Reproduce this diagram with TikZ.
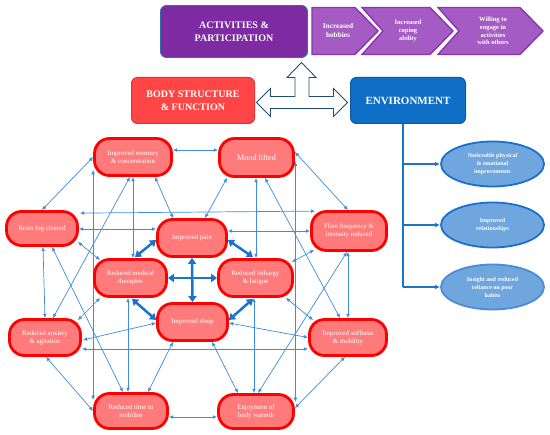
\documentclass[tikz,border=0pt]{standalone}
\usepackage{fontspec}
\setmainfont{Liberation Serif}
\usetikzlibrary{shapes.geometric,arrows.meta}
\pgfdeclarelayer{background}
\pgfsetlayers{background,main}
\definecolor{redfill}{HTML}{FF7B7B}
\definecolor{redline}{HTML}{FF0000}
\definecolor{bodyfill}{HTML}{FF4545}
\definecolor{bodyline}{HTML}{E53232}
\definecolor{envfill}{HTML}{0F6FC6}
\definecolor{envline}{HTML}{0B5AA5}
\definecolor{actfill}{HTML}{7E2BA3}
\definecolor{actline}{HTML}{2F6EA5}
\definecolor{chevfill}{HTML}{A45CC4}
\definecolor{chevline}{HTML}{8A34B0}
\definecolor{ellfill}{HTML}{6FA6DD}
\definecolor{ellline}{HTML}{1C6FCF}
\definecolor{thinblue}{HTML}{3C8DDB}
\definecolor{thickblue}{HTML}{1A73CC}
\definecolor{navy}{HTML}{1F4E79}
\begin{document}
\begin{tikzpicture}[x=1pt,y=-1pt,
  rn/.style={draw=redline, fill=redfill, line width=2.8pt, rounded corners=15pt,
    text=white, align=center, font=\fontsize{6.8}{8.2}\selectfont, inner sep=0pt},
  ell/.style={ellipse, draw=ellline, fill=ellfill, line width=1.8pt,
    minimum width=103pt, minimum height=45pt, text=white, align=center,
    font=\bfseries\fontsize{6}{8}\selectfont, inner sep=0pt},
  head/.style={text=white, align=center, inner sep=0pt, rounded corners=6pt},
  chev/.style={draw=chevline, fill=chevfill, line width=1.4pt, line join=miter},
  chevtext/.style={text=white, align=center, font=\bfseries\fontsize{6.5}{7.6}\selectfont},
  thinc/.style={draw=thinblue, line width=0.7pt,
    {Latex[length=4.3pt,width=3.8pt]}-{Latex[length=4.3pt,width=3.8pt]}},
  thickc/.style={draw=thickblue, line width=2.5pt,
    {Triangle[length=6pt,width=8pt]}-{Triangle[length=6pt,width=8pt]}},
  envc/.style={draw=thickblue, line width=1.2pt},
  enva/.style={envc, -{Latex[length=5pt,width=4.5pt]}}
]
\useasboundingbox (0,0) rectangle (550,435);

% ---- top: activities & chevrons
\node[head, draw=actline, fill=actfill, line width=0.9pt, minimum width=147pt, minimum height=52pt,
  font=\bfseries\fontsize{10}{13.3}\selectfont] (Act) at (234,31.5) {ACTIVITIES \&\\PARTICIPATION};
\draw[chev] (312,7.5) -- (355,7.5) -- (378,31) -- (355,54.5) -- (312,54.5) -- cycle;
\draw[chev] (362,7.5) -- (430,7.5) -- (453,31) -- (430,54.5) -- (362,54.5) -- (383,31) -- cycle;
\draw[chev] (438,7.5) -- (520,7.5) -- (543,31) -- (520,54.5) -- (438,54.5) -- (459,31) -- cycle;
\node[chevtext, font=\bfseries\fontsize{7.3}{9}\selectfont] (C1) at (338,31) {Increased\\hobbies};
\node[chevtext] (C2) at (408,31) {Increased\\coping\\ability};
\node[chevtext] (C3) at (493,31) {Willing to\\engage in\\activities\\with others};

% ---- body / environment
\node[head, draw=bodyline, fill=bodyfill, line width=1pt, minimum width=123pt, minimum height=46pt,
  font=\bfseries\fontsize{10}{13}\selectfont] (Body) at (193,100.5) {BODY STRUCTURE\\\& FUNCTION};
\node[head, draw=envline, fill=envfill, line width=1pt, minimum width=115pt, minimum height=46pt,
  font=\bfseries\fontsize{11}{13}\selectfont] (Env) at (408,100.5) {ENVIRONMENT};

% hollow three-way arrow
\draw[navy, line width=0.9pt, fill=white, line join=miter]
  (301.5,62.5) -- (316,77.5) -- (309,77.5) -- (309,96.5) -- (333.5,96.5) -- (333.5,88.5)
  -- (347.5,102.5) -- (333.5,116.5) -- (333.5,108.5) -- (270.5,108.5) -- (270.5,116.5)
  -- (256.5,102.5) -- (270.5,88.5) -- (270.5,96.5) -- (295,96.5) -- (295,77.5)
  -- (287,77.5) -- cycle;

% ---- environment ellipses
\node[ell] (E1) at (492.5,164) {Noticeable physical\\\& emotional\\improvements};
\node[ell] (E2) at (492.5,225) {Improved\\relationships};
\node[ell, draw=ellline!80!white] (E3) at (492.5,287) {Insight and reduced\\reliance on poor\\habits};
\coordinate (B0) at ([xshift=-5pt]Env.south);
\draw[envc] (B0) -- (B0 |- E3.west);
\draw[enva] (B0 |- E1.west) -- (E1.west);
\draw[enva] (B0 |- E2.west) -- (E2.west);
\draw[enva] (B0 |- E3.west) -- (E3.west);

% ---- network nodes
\node[rn, minimum width=77pt, minimum height=37pt] (Mem) at (133,157) {Improved memory\\\& concentration};
\node[rn, minimum width=74pt, minimum height=38pt, font=\fontsize{8.2}{9}\selectfont] (Mood) at (256.5,157.5) {Mood lifted};
\node[rn, minimum width=71pt, minimum height=34pt] (Fog) at (42,228.5) {Brain fog cleared};
\node[rn, minimum width=69pt, minimum height=37pt] (Pain) at (192,238) {Improved pain};
\node[rn, minimum width=75pt, minimum height=39pt] (Flare) at (349,231) {Flare frequency \&\\intensity reduced};
\node[rn, minimum width=72pt, minimum height=37pt] (Med) at (130.5,278) {Reduced medical\\therapies};
\node[rn, minimum width=74pt, minimum height=37pt] (Leth) at (255.5,278) {Reduced lethargy\\\& fatigue};
\node[rn, minimum width=70pt, minimum height=37pt] (Sleep) at (192.5,322) {Improved sleep};
\node[rn, minimum width=71pt, minimum height=36pt] (Anx) at (45,337.5) {Reduced anxiety\\\& agitation};
\node[rn, minimum width=77pt, minimum height=36pt] (Stiff) at (348,337.5) {Improved stiffness\\\& mobility};
\node[rn, minimum width=73pt, minimum height=35pt] (Mob) at (131,411) {Reduced time to\\mobilise};
\node[rn, minimum width=75pt, minimum height=34pt] (Warm) at (256,411.5) {Enjoyment of\\body warmth};

\begin{pgfonlayer}{background}
\draw[thinc] ([shift={(0,-7)}]Mem.east) -- ([shift={(0,-7.5)}]Mood.west);
\draw[thinc] (Mem.west) -- (Fog.north);
\draw[thinc] ([shift={(22,0)}]Mem.south) -- ([shift={(-19,0)}]Pain.north);
\draw[thinc] ([shift={(-29.5,0)}]Mood.south) -- ([shift={(13,0)}]Pain.north);
\draw[thinc] ([shift={(0,-5.5)}]Mood.east) -- ([shift={(-1,0)}]Flare.north);
\draw[thinc] ([shift={(1,3)}]Fog.north east) -- ([shift={(5,1)}]Flare.north west);
\draw[thinc] ([shift={(0,0.5)}]Fog.east) -- ([shift={(0,-9)}]Pain.west);
\draw[thinc] ([shift={(0,-7)}]Pain.east) -- (Flare.west);
\draw[thinc] (Mem.south) -- ([shift={(2.5,0)}]Med.north);
\draw[thinc] ([shift={(-3,0)}]Mem.south) -- ([shift={(8,0)}]Anx.north);
\draw[thinc] ([shift={(-0.5,0)}]Mood.south) -- ([shift={(0.5,0)}]Leth.north);
\draw[thinc] ([shift={(8.5,0)}]Mood.south) -- ([shift={(-8,0)}]Stiff.north);
\draw[thinc] ([shift={(1,0)}]Fog.south) -- (Anx.north);
\draw[thinc] ([shift={(10,0)}]Fog.south) -- ([shift={(-8,0)}]Mob.north);
\draw[thinc] ([shift={(-1,-5)}]Fog.south east) -- ([shift={(7,2)}]Med.north west);
\draw[thinc] ([shift={(4,-2)}]Flare.south west) -- ([shift={(-2,4)}]Leth.north east);
\draw[thinc] ([shift={(-1,0)}]Flare.south) -- (Stiff.north);
\draw[thinc] ([shift={(-2,0)}]Flare.south) -- ([shift={(2,0)}]Warm.north);
\draw[thinc] ([shift={(0,13)}]Mem.west) -- ([shift={(0,-11)}]Mob.west);
\draw[thinc] ([shift={(0.5,4)}]Mood.east) -- ([shift={(0.5,-9.5)}]Warm.east);
\draw[thinc] ([shift={(-2.5,0)}]Med.south) -- ([shift={(-3,0)}]Mob.north);
\draw[thinc] ([shift={(-1.5,0)}]Leth.south) -- ([shift={(-2,0)}]Warm.north);
\draw[thinc] ([shift={(7,0)}]Med.south west) -- ([shift={(-4,2)}]Anx.north east);
\draw[thinc] ([shift={(0,1)}]Sleep.west) -- ([shift={(1,2.5)}]Anx.east);
\draw[thinc] ([shift={(0,11.5)}]Anx.east) -- ([shift={(0,11.5)}]Stiff.west);
\draw[thinc] ([shift={(1,0)}]Anx.south) -- (Mob.west);
\draw[thinc] ([shift={(-19.5,0)}]Sleep.south) -- ([shift={(17,0)}]Mob.north);
\draw[thinc] ([shift={(19.5,0)}]Sleep.south) -- ([shift={(-18,0)}]Warm.north);
\draw[thinc] ([shift={(0,1)}]Sleep.east) -- (Stiff.west);
\draw[thinc] ([shift={(-8,0)}]Leth.south east) -- ([shift={(5,2)}]Stiff.north west);
\draw[thinc] ([shift={(-3,0)}]Stiff.south) -- ([shift={(0,-3.5)}]Warm.east);
\draw[thinc] ([shift={(0,6)}]Mob.east) -- ([shift={(0,5.5)}]Warm.west);
\end{pgfonlayer}

% thick central arrows
\draw[thickc] ([shift={(0,2)}]Pain.west) -- ([shift={(4.5,-1)}]Med.north);
\draw[thickc] ([shift={(0,2)}]Pain.east) -- ([shift={(-2.5,-1)}]Leth.north);
\draw[thickc] ([shift={(1.5,1)}]Med.south) -- ([shift={(0,-2)}]Sleep.west);
\draw[thickc] ([shift={(-2.5,1)}]Leth.south) -- ([shift={(0,-2)}]Sleep.east);
\draw[thickc] (Pain.south) -- (Sleep.north);
\draw[thickc] (Med.east) -- (Leth.west);
\end{tikzpicture}
\end{document}
